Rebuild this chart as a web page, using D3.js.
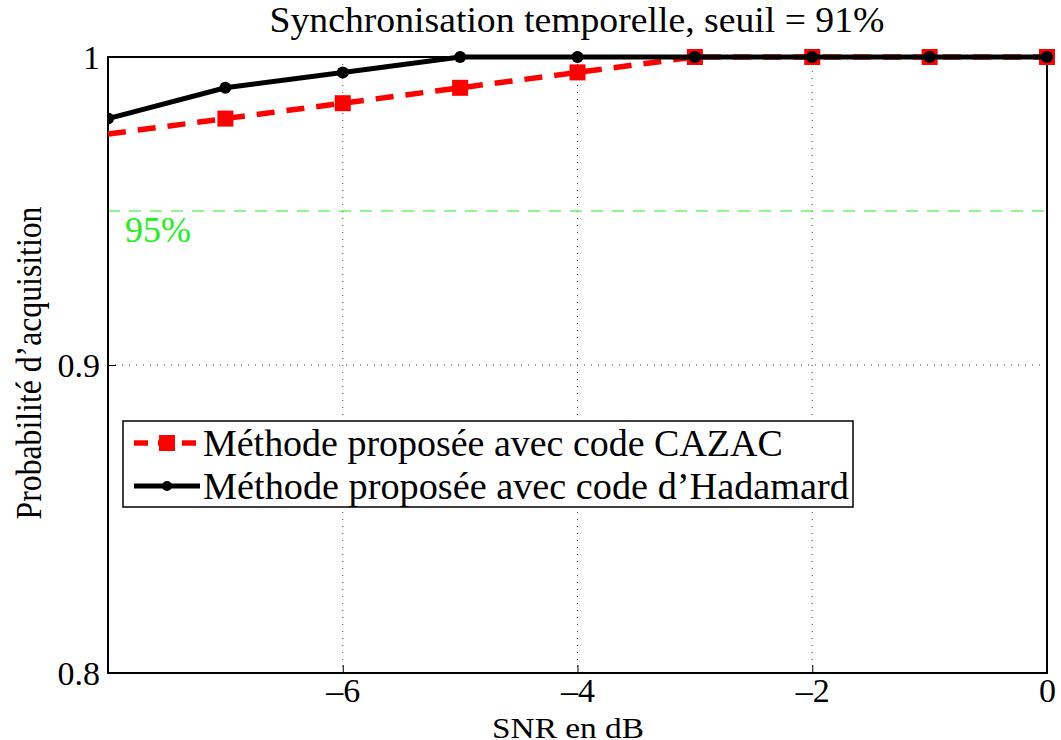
<!DOCTYPE html>
<html>
<head>
<meta charset="utf-8">
<script src="https://cdn.jsdelivr.net/npm/d3@7"></script>
</head>
<body style="margin:0">
<svg id="fig" width="1061" height="740" style="font-family: serif"></svg>
<script>
// SNR (dB) and acquisition probability for each code
const snr = [-8, -7, -6, -5, -4, -3, -2, -1, 0];
const cazac = [0.975, 0.98, 0.985, 0.99, 0.995, 1, 1, 1, 1];
const hadamard = [0.98, 0.99, 0.995, 1, 1, 1, 1, 1, 1];
const xTicks = [-6, -4, -2, 0];
const yTicks = [0.8, 0.9, 1];
const threshold = 0.95;
const thresholdLabel = "95%";
const seriesNames = ["Méthode proposée avec code CAZAC", "Méthode proposée avec code d\u2019Hadamard"];

const svg = d3.select("#fig");
const m = { left: 108, right: 1047, top: 57, bottom: 673 };
const FONT = "Liberation Serif, Times New Roman, serif";

const x = d3.scaleLinear().domain([-8, 0]).range([m.left, m.right]);
const y = d3.scaleLinear().domain([0.8, 1]).range([m.bottom, m.top]);

// place a text at (px, py), optionally squeezed horizontally to a given width
function fitText(parent, str, px, py, size, width, anchor, rotate) {
  const g = parent.append("g").attr("transform", `translate(${px},${py})${rotate ? " rotate(" + rotate + ")" : ""}`);
  const t = g.append("text").attr("font-size", size).attr("font-family", FONT).style("font-family", FONT)
    .attr("text-anchor", anchor || "start").text(str);
  const w = t.node().getComputedTextLength();
  if (width && w > 0) t.attr("transform", `scale(${width / w},1)`);
  return t;
}

// dotted grid
const grid = svg.append("g");
grid.selectAll("line.vx").data(xTicks.filter(d => d > -8 && d < 0)).enter().append("line")
  .attr("x1", d => x(d)).attr("x2", d => x(d)).attr("y1", m.top).attr("y2", m.bottom)
  .attr("stroke", "#444").attr("stroke-width", 1).attr("stroke-dasharray", "1,6");
grid.selectAll("line.hy").data(yTicks.filter(d => d > 0.8 && d < 1)).enter().append("line")
  .attr("x1", m.left).attr("x2", m.right).attr("y1", d => y(d)).attr("y2", d => y(d))
  .attr("stroke", "#444").attr("stroke-width", 1).attr("stroke-dasharray", "1,6");

// threshold line
svg.append("line")
  .attr("x1", m.left).attr("x2", m.right).attr("y1", y(threshold)).attr("y2", y(threshold))
  .attr("stroke", "#22ee22").attr("stroke-width", 1.2).attr("stroke-dasharray", "12,9");
svg.append("text").attr("font-family", FONT).style("font-family", FONT).attr("x", 125).attr("y", y(threshold) + 31)
  .attr("fill", "#22ee22").attr("font-size", 36).text(thresholdLabel);

// axes
const xAxis = d3.axisBottom(x).tickValues(xTicks).tickSize(-8).tickPadding(5)
  .tickFormat(d => d === 0 ? "0" : "\u2013" + Math.abs(d));
const yAxis = d3.axisLeft(y).tickValues(yTicks).tickSize(-8).tickPadding(8)
  .tickFormat(d => d === 1 ? "1" : d3.format(".1f")(d));

const gx = svg.append("g").attr("transform", `translate(0,${m.bottom})`).call(xAxis);
const gy = svg.append("g").attr("transform", `translate(${m.left},0)`).call(yAxis);
[gx, gy].forEach(g => {
  g.attr("font-family", FONT).attr("font-size", 34);
  g.select(".domain").remove();
  g.selectAll("text").style("font-family", FONT).attr("font-size", 34).attr("fill", "#000");
  g.selectAll(".tick line").attr("stroke", "#000").attr("stroke-width", 1);
});
gx.selectAll("text").attr("dy", "0.71em");
gy.selectAll("text").attr("dy", "0.34em");

// frame
svg.append("rect").attr("x", m.left).attr("y", m.top)
  .attr("width", m.right - m.left).attr("height", m.bottom - m.top)
  .attr("fill", "none").attr("stroke", "#000").attr("stroke-width", 2);

svg.append("defs").append("clipPath").attr("id", "plotclip")
  .append("rect").attr("x", m.left - 1).attr("y", m.top - 12)
  .attr("width", m.right - m.left + 14).attr("height", m.bottom - m.top + 12);

const line = d3.line().x(d => x(d[0])).y(d => y(d[1]));
const dataC = snr.map((s, i) => [s, cazac[i]]);
const dataH = snr.map((s, i) => [s, hadamard[i]]);

const plot = svg.append("g").attr("clip-path", "url(#plotclip)");

// CAZAC series: red dashed with square markers
plot.append("path").datum(dataC).attr("d", line)
  .attr("fill", "none").attr("stroke", "#ff0000").attr("stroke-width", 5.5).attr("stroke-dasharray", "18,12");
plot.selectAll("rect.mc").data(dataC.slice(1)).enter().append("rect")
  .attr("x", d => x(d[0]) - 8).attr("y", d => y(d[1]) - 8)
  .attr("width", 16).attr("height", 16).attr("fill", "#ff0000");

// Hadamard series: black solid with dot markers
plot.append("path").datum(dataH).attr("d", line)
  .attr("fill", "none").attr("stroke", "#000").attr("stroke-width", 5);
plot.selectAll("circle.mh").data(dataH).enter().append("circle")
  .attr("cx", d => x(d[0])).attr("cy", d => y(d[1])).attr("r", 6).attr("fill", "#000");

// legend
const lg = svg.append("g");
lg.append("rect").attr("x", 123).attr("y", 421).attr("width", 730).attr("height", 86)
  .attr("fill", "#fff").attr("stroke", "#000").attr("stroke-width", 1.5);
const rows = [443, 486];
lg.append("line").attr("x1", 134).attr("x2", 200).attr("y1", rows[0]).attr("y2", rows[0])
  .attr("stroke", "#ff0000").attr("stroke-width", 5.5).attr("stroke-dasharray", "14,10");
lg.append("rect").attr("x", 159).attr("y", rows[0] - 8).attr("width", 16).attr("height", 16).attr("fill", "#ff0000");
lg.append("line").attr("x1", 134).attr("x2", 200).attr("y1", rows[1]).attr("y2", rows[1])
  .attr("stroke", "#000").attr("stroke-width", 5);
lg.append("circle").attr("cx", 167).attr("cy", rows[1]).attr("r", 5).attr("fill", "#000");
const legendWidths = [580, 646];
seriesNames.forEach((n, i) => fitText(lg, n, 203, rows[i] + 13, 38, legendWidths[i], "start"));

// titles
fitText(svg, "Synchronisation temporelle, seuil = 91%", 577, 32, 36, 615, "middle");
fitText(svg, "SNR en dB", 568, 738, 30, 152, "middle");
fitText(svg, "Probabilité d\u2019acquisition", 41, 363, 36, 313, "middle", -90);
</script>
</body>
</html>
